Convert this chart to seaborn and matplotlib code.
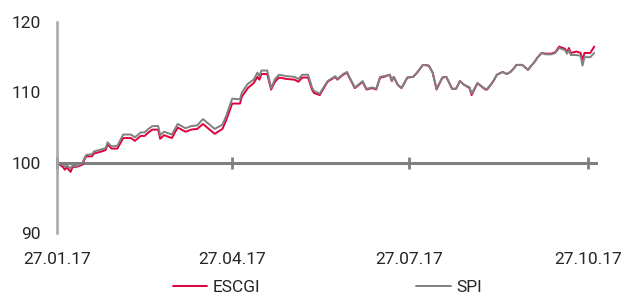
import pandas as pd
import numpy as np
import seaborn as sns
import matplotlib.pyplot as plt
import matplotlib.dates as mdates

# values
dates = ["2017-01-27", "2017-01-30", "2017-01-31", "2017-02-01", "2017-02-03", "2017-02-04",
         "2017-02-06", "2017-02-09", "2017-02-10", "2017-02-11", "2017-02-14", "2017-02-15",
         "2017-02-19", "2017-02-21", "2017-02-22", "2017-02-24", "2017-02-27", "2017-03-02",
         "2017-03-06", "2017-03-08", "2017-03-11", "2017-03-13", "2017-03-15", "2017-03-17",
         "2017-03-20", "2017-03-21", "2017-03-23", "2017-03-27", "2017-03-30", "2017-04-03",
         "2017-04-06", "2017-04-09", "2017-04-12", "2017-04-18", "2017-04-22", "2017-04-24",
         "2017-04-27", "2017-05-01", "2017-05-02", "2017-05-05", "2017-05-08", "2017-05-10",
         "2017-05-11", "2017-05-12", "2017-05-15", "2017-05-17", "2017-05-19", "2017-05-21",
         "2017-05-25", "2017-05-29", "2017-05-31", "2017-06-02", "2017-06-05", "2017-06-07",
         "2017-06-08", "2017-06-11", "2017-06-12", "2017-06-15", "2017-06-19", "2017-06-20",
         "2017-06-23", "2017-06-25", "2017-06-26", "2017-06-29", "2017-06-30", "2017-07-03",
         "2017-07-05", "2017-07-08", "2017-07-10", "2017-07-12", "2017-07-14", "2017-07-17",
         "2017-07-18", "2017-07-19", "2017-07-21", "2017-07-23", "2017-07-26", "2017-07-29",
         "2017-07-31", "2017-08-03", "2017-08-06", "2017-08-08", "2017-08-10", "2017-08-13",
         "2017-08-15", "2017-08-18", "2017-08-20", "2017-08-22", "2017-08-24", "2017-08-27",
         "2017-08-28", "2017-08-31", "2017-09-04", "2017-09-05", "2017-09-08", "2017-09-10",
         "2017-09-13", "2017-09-15", "2017-09-17", "2017-09-19", "2017-09-20", "2017-09-23",
         "2017-09-26", "2017-09-28", "2017-09-29", "2017-10-01", "2017-10-03", "2017-10-05",
         "2017-10-08", "2017-10-10", "2017-10-12", "2017-10-15", "2017-10-16", "2017-10-17",
         "2017-10-18", "2017-10-21", "2017-10-23", "2017-10-24", "2017-10-25", "2017-10-28",
         "2017-10-30"]

escgi = [100.0, 99.4, 99.0, 99.3, 98.7, 99.4, 99.4, 99.7, 100.4, 100.9, 100.9, 101.3,
         101.6, 101.8, 102.6, 102.0, 102.0, 103.5, 103.5, 103.1, 103.8, 103.8, 104.3, 104.7,
         104.7, 103.4, 103.9, 103.5, 105.0, 104.4, 104.7, 104.8, 105.5, 104.1, 104.8, 106.1,
         108.4, 108.4, 109.4, 110.6, 111.3, 112.2, 111.8, 112.6, 112.6, 110.4, 111.5, 112.1,
         111.9, 111.8, 111.5, 112.1, 112.1, 110.4, 109.9, 109.6, 110.1, 111.5, 112.2, 111.8,
         112.5, 112.8, 112.2, 110.6, 110.8, 111.5, 110.4, 110.6, 110.4, 112.1, 112.2, 112.5,
         111.6, 112.2, 111.1, 110.6, 112.1, 112.2, 112.8, 113.9, 113.8, 112.8, 110.4, 112.1,
         112.2, 110.5, 110.5, 111.6, 111.1, 110.6, 109.6, 111.3, 110.4, 110.4, 111.5, 112.5,
         112.9, 112.6, 112.9, 113.5, 113.9, 113.9, 113.2, 113.9, 114.2, 115.0, 115.6, 115.5,
         115.5, 115.7, 116.5, 116.2, 115.7, 116.3, 115.6, 115.8, 115.6, 114.6, 115.6, 115.6,
         116.5]

spi = [100.0, 99.7, 99.4, 99.6, 99.2, 99.6, 99.5, 99.9, 100.6, 101.1, 101.2, 101.6,
       101.9, 102.1, 102.9, 102.3, 102.4, 104.0, 104.0, 103.6, 104.3, 104.3, 104.8, 105.2,
       105.2, 103.9, 104.4, 104.0, 105.5, 104.9, 105.2, 105.3, 106.2, 104.8, 105.4, 106.7,
       109.1, 109.0, 110.0, 111.2, 111.8, 112.8, 112.3, 113.1, 113.1, 110.6, 111.9, 112.5,
       112.3, 112.2, 111.9, 112.5, 112.5, 110.7, 110.2, 109.8, 110.3, 111.6, 112.3, 111.9,
       112.6, 112.9, 112.3, 110.7, 110.9, 111.6, 110.5, 110.7, 110.5, 112.2, 112.3, 112.5,
       111.6, 112.2, 111.1, 110.6, 112.1, 112.2, 112.8, 113.9, 113.8, 112.8, 110.5, 112.1,
       112.2, 110.5, 110.5, 111.6, 111.1, 110.7, 109.8, 111.3, 110.5, 110.5, 111.5, 112.5,
       112.9, 112.6, 112.9, 113.5, 113.9, 113.9, 113.2, 113.9, 114.2, 115.0, 115.6, 115.4,
       115.4, 115.6, 116.3, 116.0, 115.5, 116.0, 115.3, 115.3, 115.2, 113.8, 115.0, 115.0,
       115.6]

tick_dates = ["2017-01-27", "2017-04-27", "2017-07-27", "2017-10-27"]
y_ticks = [90, 100, 110, 120]

df = pd.DataFrame({"date": pd.to_datetime(dates), "ESCGI": escgi, "SPI": spi})
long_df = df.melt(id_vars="date", var_name="index", value_name="value")

sns.set_style("white")
plt.rcParams["font.family"] = ["Roboto", "DejaVu Sans"]
text_col = "#262626"

fig, ax = plt.subplots(figsize=(6.21, 2.96), dpi=100)
fig.subplots_adjust(left=0.0918, right=0.960, top=0.9257, bottom=0.2128)

sns.lineplot(data=long_df, x="date", y="value", hue="index",
             palette={"ESCGI": "#e2003c", "SPI": "#808080"},
             linewidth=1.4, ax=ax, legend=False)

ax.set_ylim(90, 120)
ax.set_xlim(pd.Timestamp("2017-01-27"), pd.Timestamp("2017-10-31"))
ax.set_yticks(y_ticks)
ax.set_xticks(pd.to_datetime(tick_dates))
ax.xaxis.set_major_formatter(mdates.DateFormatter("%d.%m.%y"))
ax.set_xlabel("")
ax.set_ylabel("")

for s in ["top", "right"]:
    ax.spines[s].set_visible(False)
ax.spines["left"].set_color("#a6a6a6")
ax.spines["left"].set_linewidth(1.8)
ax.spines["bottom"].set_position(("data", 100))
ax.spines["bottom"].set_color("#7f7f7f")
ax.spines["bottom"].set_linewidth(2.2)
ax.spines["bottom"].set_zorder(1)

ax.tick_params(axis="y", left=False, length=0, pad=12, labelsize=12.5, labelcolor=text_col)
ax.tick_params(axis="x", bottom=True, direction="inout", length=9, width=2, color="#7f7f7f",
               pad=60, labelsize=12.5, labelcolor=text_col)

handles = [plt.Line2D([], [], color="#e2003c", linewidth=1.4),
           plt.Line2D([], [], color="#808080", linewidth=1.4)]
fig.legend(handles, ["ESCGI", "SPI"], loc="center", bbox_to_anchor=(0.527, 0.028),
           ncol=2, frameon=False, fontsize=12.5, labelcolor=text_col,
           handlelength=2.0, handletextpad=0.3, columnspacing=9.0)

fig.savefig("out.png", dpi=100)
